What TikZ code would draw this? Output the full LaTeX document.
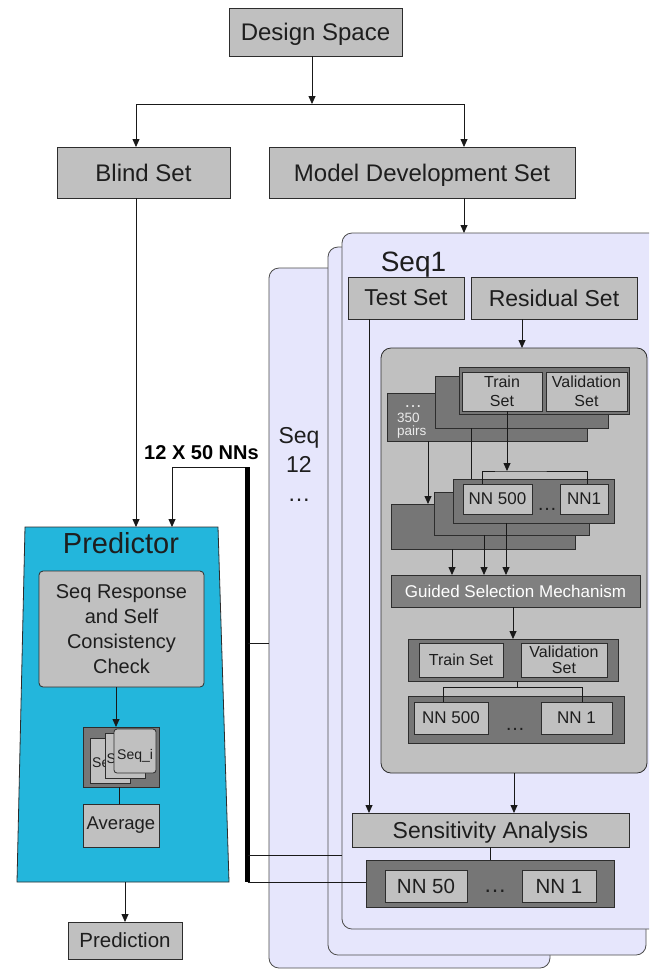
\documentclass[tikz,border=0pt]{standalone}
\usepackage{fontspec}
\setmainfont{Liberation Sans}
\usetikzlibrary{arrows.meta}

\definecolor{boxgray}{RGB}{192,192,192}
\definecolor{framegray}{RGB}{118,118,118}
\definecolor{gsmgray}{RGB}{128,128,128}
\definecolor{lavender}{RGB}{230,230,252}
\definecolor{predcyan}{RGB}{35,182,220}
\definecolor{edge}{RGB}{45,45,45}
\definecolor{ink}{RGB}{30,30,30}

% font size helper
\newcommand\fs[2]{\fontsize{#1}{#2}\selectfont}
% box by its corners: [style]{x1}{y1}{x2}{y2}{name}
\newcommand\BX[6][]{\node[#1, anchor=north west, minimum width={#4-#2}, minimum height={#5-#3}] (#6) at (#2,#3)}

\begin{document}
\begin{tikzpicture}[x=1pt, y=-1pt,
  lbox/.style={draw=edge, fill=boxgray, inner sep=1pt, outer sep=0pt, align=center, text=ink, line width=0.8pt},
  nodesc/.style={text depth=0pt},
  dframe/.style={draw=edge, fill=framegray, inner sep=0pt, outer sep=0pt, line width=0.8pt},
  panel/.style={draw=edge!85, fill=lavender, rounded corners=10pt, outer sep=0pt, line width=0.8pt},
  conn/.style={draw=black!90, line width=0.8pt},
  arr/.style={conn, -{Triangle[length=8pt,width=7pt]}},
  cardtxt/.style={font=\fs{14}{16}, text=ink, inner sep=0pt},
  dots/.style={text=ink, inner sep=0pt, anchor=base}]

\clip (0,0) rectangle (649,970);
\fill[white] (0,0) rectangle (649,970);

% ---------- data split ----------
\BX[lbox, nodesc, font=\fs{24}{28}]{229}{8}{402}{56}{ds}{Design Space};
\BX[lbox, font=\fs{24}{28}]{57}{147}{230}{198}{bs}{Blind Set};
\BX[lbox, nodesc, font=\fs{24}{28}]{269}{147}{575}{198}{mds}{Model Development Set};
\coordinate (split) at (312,104);
\draw[arr] (ds.south -| split) -- (split);
\draw[arr] (split) -| ([xshift=-7.5pt]bs.north);
\draw[arr] (split) -| ([xshift=42pt]mds.north);

% ---------- sequence panels ----------
\BX[panel]{269}{268}{550}{968}{p3}{};
\BX[panel]{328}{247}{646}{955}{p2}{};
\BX[panel]{342}{233}{665}{929}{p1}{};
\draw[arr] ([xshift=42pt]mds.south) -- ([xshift=42pt]mds.south |- p1.north);
\node[font=\fs{28}{32}, text=ink, anchor=base, inner sep=0pt] (seq1) at (413.5,271.5) {Seq1};
\node[font=\fs{23}{29}, text=ink, align=center, anchor=north, inner sep=0pt] (seq12) at (299,427.5) {Seq\\12\\…};

\BX[lbox, font=\fs{23}{27}]{348}{277}{464}{319}{ts}{Test Set};
\BX[lbox, font=\fs{23}{27}]{471}{277}{637}{319}{rs}{Residual Set};
\BX[lbox, rounded corners=10pt]{381}{348}{647}{773}{big}{};
\draw[arr] ([xshift=-32pt]rs.south) -- ([xshift=-32pt]rs.south |- big.north);

% train/validation pairs
\BX[dframe]{387}{393}{587}{441}{f3}{};
\BX[dframe]{435}{376}{608}{428}{f2}{};
\BX[dframe]{459}{367}{629}{414}{f1}{};
\BX[lbox, font=\fs{16}{19}]{462}{372}{542}{411}{tr1}{Train\\Set};
\BX[lbox, font=\fs{16}{19}]{546}{372}{627}{411}{va1}{Validation\\Set};
\node[font=\fs{18}{18}, text=white!92!black, inner sep=0pt, anchor=base] (pdots) at (413,407) {…};
\node[font=\fs{13.5}{14}, text=white!92!black, inner sep=0pt, anchor=base west] (p350) at (397,422) {350};
\node[font=\fs{13.5}{14}, text=white!92!black, inner sep=0pt, anchor=base west] (ppairs) at (397,435.5) {pairs};

% network ensembles
\BX[dframe]{391}{504}{575}{549}{n3}{};
\BX[dframe]{434}{492}{589}{535}{n2}{};
\BX[dframe]{453}{479}{614}{523}{n1}{};
\BX[lbox, font=\fs{17}{20}]{463}{484}{532}{514}{nnA}{NN 500};
\BX[lbox, font=\fs{17}{20}]{560}{484}{608}{514}{nnB}{NN1};
\node[dots, font=\fs{20}{20}] (dA) at (547,510) {…};

\draw[arr] ([xshift=-59pt]f3.south) -- ([xshift=-59pt]f3.south |- n3.north);
\draw[conn] ([xshift=-50.5pt]f2.south) -- ([xshift=-50.5pt]f2.south |- n1.north);
\coordinate (brk) at (507,471);
\draw[arr] ([xshift=5pt]tr1.south) -- (brk);
\draw[conn] ([xshift=-15.5pt]nnA.north) |- (brk) -| ([xshift=3pt]nnB.north);

\BX[lbox, fill=gsmgray, text=white, font=\fs{17}{20}]{391}{575}{640}{607}{gsm}{Guided Selection Mechanism};
\draw[arr] ([xshift=-31pt]n3.south) -- ([xshift=-31pt]n3.south |- gsm.north);
\draw[arr] ([xshift=-27.5pt]n2.south) -- ([xshift=-27.5pt]n2.south |- gsm.north);
\draw[arr] ([xshift=-27.5pt]n1.south) -- ([xshift=-27.5pt]n1.south |- gsm.north);

% selected pair and networks
\BX[dframe]{408}{639}{618}{681}{f4}{};
\BX[lbox, font=\fs{16}{19}]{419}{643}{503}{677}{tr2}{Train Set};
\BX[lbox, font=\fs{16}{16.5}]{521}{643}{607}{677}{va2}{Validation\\Set};
\draw[arr] (gsm.south -| f4.north) -- (f4.north);
\BX[dframe]{408}{696}{624}{743}{n4}{};
\BX[lbox, font=\fs{17}{20}]{414}{702}{488}{734}{nnC}{NN 500};
\BX[lbox, font=\fs{17}{20}]{541}{702}{612}{734}{nnD}{NN 1};
\node[dots, font=\fs{20}{20}] (dC) at (515,730) {…};
\coordinate (brk2) at (517,687);
\draw[conn] ([xshift=4pt]f4.south) -- (brk2);
\draw[conn] ([xshift=-8pt]nnC.north) |- (brk2) -| ([xshift=5.5pt]nnD.north);

% sensitivity analysis
\BX[lbox, nodesc, font=\fs{23}{27}]{352}{813}{629}{847}{sa}{Sensitivity Analysis};
\draw[arr] (big.south) -- (big.south |- sa.north);
\draw[arr] ([xshift=-37pt]ts.south) -- ([xshift=-37pt]ts.south |- sa.north);
\BX[dframe]{366}{860}{614}{907}{n5}{};
\BX[lbox, font=\fs{20.5}{24}]{385}{870}{467}{902}{nnE}{NN 50};
\BX[lbox, font=\fs{20.5}{24}]{522}{870}{596}{902}{nnF}{NN 1};
\node[dots, font=\fs{23}{23}] (dE) at (495,892) {…};
\draw[conn] (sa.south) -- (sa.south |- n5.north);

% ---------- predictor ----------
\coordinate (ptl) at (25,527);
\coordinate (ptr) at (218,527);
\coordinate (pbr) at (229,882);
\coordinate (pbl) at (17,882);
\draw[draw=edge, fill=predcyan, line width=0.8pt] (ptl) -- (ptr) -- (pbr) -- (pbl) -- cycle;
\node[font=\fs{29}{32}, text=ink, anchor=base, inner sep=0pt] (ptitle) at (121,553) {Predictor};
\BX[lbox, rounded corners=4pt, font=\fs{20}{25}]{39}{571}{204}{687}{src}{Seq Response\\and Self\\Consistency\\Check};
\BX[dframe]{83}{727}{159}{787}{stk}{};
% stacked sequence cards, each partly covered by the next
\BX[lbox]{90}{738}{130}{783}{c1}{};
\begin{scope}
  \clip (90,738) rectangle (105,783);
  \node[cardtxt, anchor=base west] (t1) at (92,767) {Se};
\end{scope}
\BX[lbox]{105}{733}{145}{778}{c2}{};
\begin{scope}
  \clip (105,733) rectangle (114,778);
  \node[cardtxt, anchor=base west] (t2) at (106.5,763) {S};
\end{scope}
\BX[lbox, rounded corners=3pt]{114}{729}{156}{773}{c3}{};
\node[cardtxt, anchor=base west] (t3) at (117,759) {Seq\_i};
\BX[lbox, font=\fs{18.5}{22}]{83}{804}{159}{847}{avg}{Average};
\BX[lbox, font=\fs{20.5}{24}]{68}{922}{182}{959}{pred}{Prediction};

\draw[arr] ([xshift=-5.5pt]src.south) -- ([xshift=-5.5pt]src.south |- stk.north);
\draw[conn] ([xshift=-2pt]stk.south) -- ([xshift=-2pt]stk.south |- avg.north);
\draw[arr] (pred.north |- pbl) -- (pred.north);
\draw[arr] ([xshift=-7.5pt]bs.south) -- ([xshift=-7.5pt]bs.south |- ptl);

% ---------- ensemble bus ----------
\coordinate (bartop) at (247.5,467);
\coordinate (barbot) at (247.5,882);
\coordinate (in2) at (172,527);
\draw[arr] (bartop) -| (in2);
\draw[line width=5.5pt, black] (bartop) -- (barbot);
\node[font=\bfseries\fs{20}{24}, text=black, anchor=base, inner sep=0pt] (nnlbl) at (201.5,459) {12 X 50 NNs};
\coordinate (b1) at (247.5,643);
\coordinate (b2) at (247.5,855);
\coordinate (b3) at (247.5,882);
\draw[conn] (b1) -- (b1 -| p3.west);
\draw[conn] (b2) -- (b2 -| p1.west);
\draw[conn] (b3) -- (b3 -| n5.west);
\end{tikzpicture}
\end{document}
